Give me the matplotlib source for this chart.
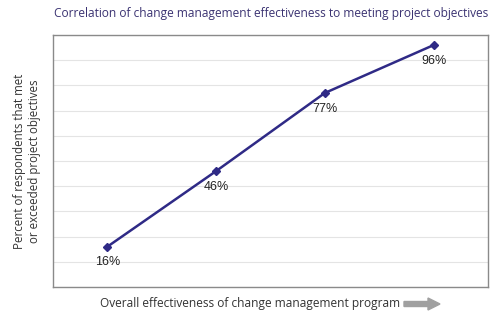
import matplotlib
matplotlib.use("Agg")
import matplotlib.pyplot as plt
from matplotlib.patches import FancyArrow

# data
levels = ["Poor", "Fair", "Good", "Excellent"]
met_pct = [16, 46, 77, 96]
pct_labels = ["16%", "46%", "77%", "96%"]

line_col = "#2f2a86"
title_col = "#3b3372"

fig = plt.figure(figsize=(5, 3.25), dpi=100)
ax = fig.add_axes([53/500, 1 - 287/325, 435/500, 252/325])

xs = range(len(levels))
ax.plot(xs, met_pct, color=line_col, lw=1.8, marker="D", ms=4)
for x, y, lab in zip(xs, met_pct, pct_labels):
    ax.annotate(lab, (x, y), xytext=(0, -7), textcoords="offset points",
                ha="center", va="top", fontsize=9, family="Liberation Sans",
                color="#222222")

ax.set_xlim(-0.5, 3.5)
ax.set_ylim(0, 100)
ax.set_yticks(range(0, 101, 10))
ax.set_xticks([])
ax.tick_params(axis="y", length=0, labelleft=False)
ax.grid(axis="y", color="#e4e4e4", lw=0.8)
ax.set_axisbelow(True)
for s in ax.spines.values():
    s.set_color("#8a8a8a")
    s.set_linewidth(1)

fig.text(0.542, 1 - 13/325, "Correlation of change management effectiveness to meeting project objectives",
         ha="center", va="center", fontsize=8.6, color=title_col, family="Open Sans")
fig.text(27/500, 1 - 161/325, "Percent of respondents that met\nor exceeded project objectives",
         ha="center", va="center", rotation=90, fontsize=8.3, color="#333333",
         family="Open Sans", linespacing=1.25)
fig.text(250/500, 1 - 304/325, "Overall effectiveness of change management program",
         ha="center", va="center", fontsize=8.6, color="#333333", family="Open Sans")
fig.patches.append(FancyArrow(404/500, 1 - 304/325, 24/500, 0, width=5/325,
                              head_width=12/325, head_length=12/500,
                              length_includes_head=False, color="#a0a0a0",
                              transform=fig.transFigure, figure=fig))

fig.savefig("out.png", dpi=100)
